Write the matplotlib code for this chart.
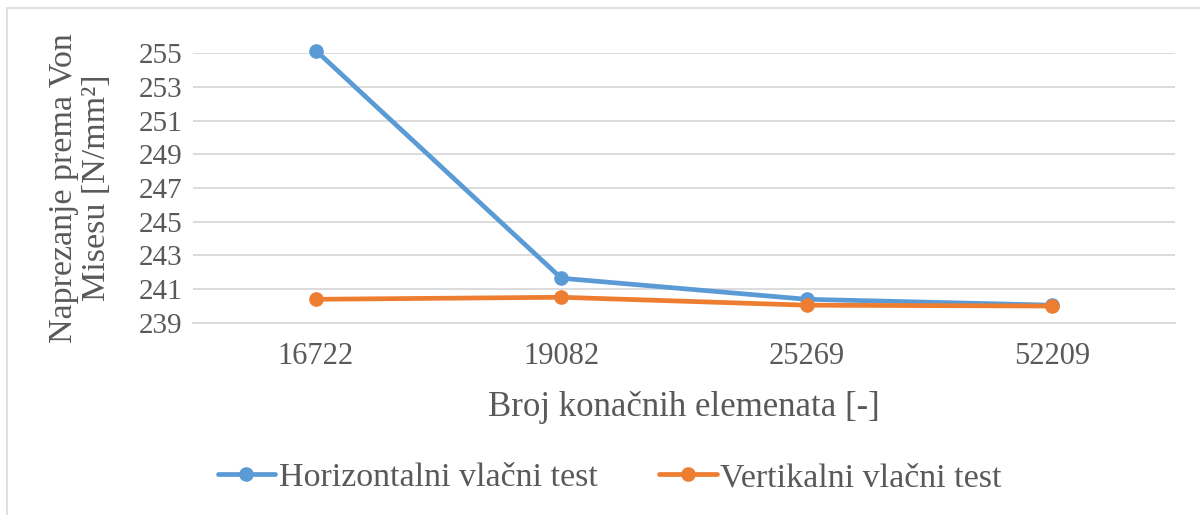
import matplotlib.pyplot as plt
from matplotlib.patches import Rectangle

# podaci
elementi = ['16722', '19082', '25269', '52209']
horizontalni = [255.15, 241.65, 240.4, 240.05]
vertikalni = [240.4, 240.52, 240.05, 240.0]
y_ticks = [239, 241, 243, 245, 247, 249, 251, 253, 255]

plt.rcParams['font.family'] = ['Liberation Serif', 'DejaVu Serif']
siva = '#595959'

fig = plt.figure(figsize=(12, 5.15), dpi=100)
ax = fig.add_axes([0.161, 0.373, 0.818, 0.524])

# okvir grafikona
fig.patches.append(Rectangle((0.006, -0.01), 1.0, 0.995, transform=fig.transFigure,
                             fill=False, edgecolor='#d9d9d9', linewidth=1.2))

x = range(len(elementi))
ax.plot(x, horizontalni, color='#5B9BD5', lw=3.4, marker='o', ms=9.5,
        solid_capstyle='round', label='Horizontalni vlačni test', zorder=3,
        clip_on=False)
ax.plot(x, vertikalni, color='#ED7D31', lw=3.4, marker='o', ms=9.5,
        solid_capstyle='round', label='Vertikalni vlačni test', zorder=4,
        clip_on=False)

ax.set_xlim(-0.5, len(elementi) - 0.5)
ax.set_ylim(239, 255)
ax.set_yticks(y_ticks)
ax.set_xticks(list(x))
ax.set_xticklabels(elementi)
ax.grid(axis='y', color='#d9d9d9', lw=1.3)
ax.set_axisbelow(True)
for s in ['top', 'right', 'left']:
    ax.spines[s].set_visible(False)
ax.spines['bottom'].set_color('#d9d9d9')
ax.spines['bottom'].set_linewidth(1.3)
ax.tick_params(length=0, labelsize=21, colors=siva, pad=8)
ax.tick_params(axis='x', labelsize=22, pad=14)

ax.set_xlabel('Broj konačnih elemenata [-]', fontsize=25, color=siva, labelpad=14)
ax.set_ylabel('Naprezanje prema Von\nMisesu [N/mm²]', fontsize=24.5, color=siva,
              linespacing=1.1)
ax.yaxis.set_label_coords(-0.083, 0.5)

ax.legend(loc='center', bbox_to_anchor=(0.508, 0.072), bbox_transform=fig.transFigure,
          ncol=2, frameon=False, fontsize=24.5, labelcolor=siva, handlelength=1.7,
          handletextpad=0.1, columnspacing=1.8)

fig.savefig('out.png', dpi=100)
